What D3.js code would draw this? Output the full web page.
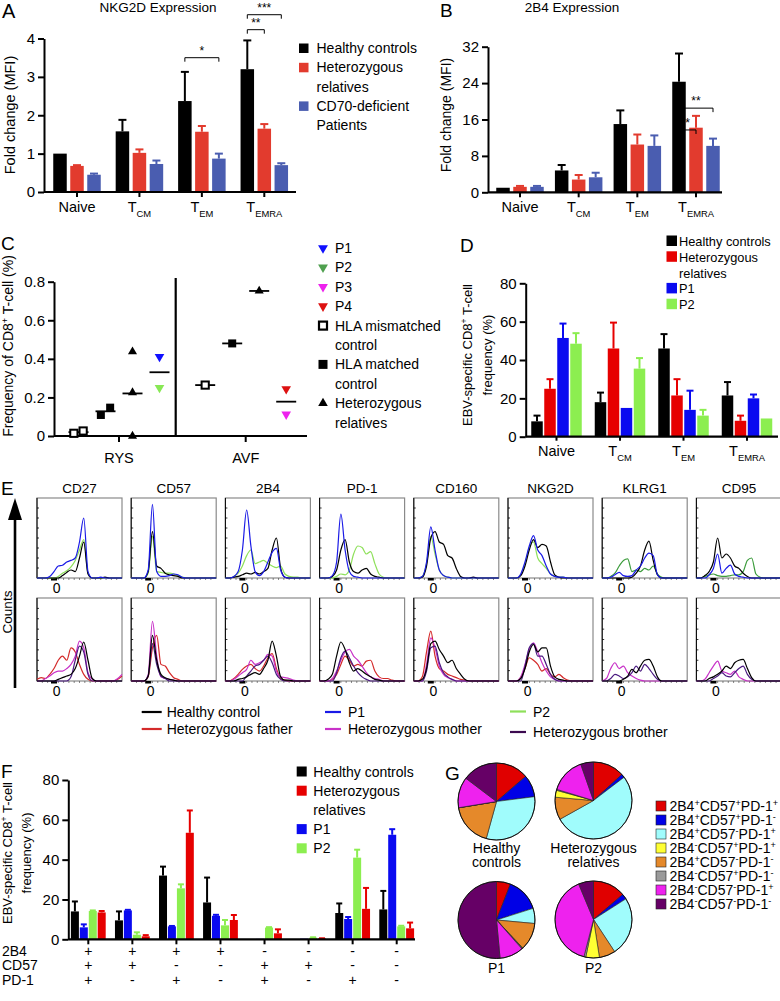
<!DOCTYPE html>
<html><head><meta charset="utf-8">
<script src="https://cdn.jsdelivr.net/npm/d3@7"></script>
<style>
body{margin:0;background:#fff}
svg{display:block}
text{font-family:"Liberation Sans",Arial,Helvetica,sans-serif;fill:#000}
</style></head><body>
<script>
// ================= DATA =================
// Panel A – NKG2D expression (fold change MFI)
const aCategories = ["Naive","T_CM","T_EM","T_EMRA"];
const aSeriesNames = ["Healthy controls","Heterozygous relatives","CD70-deficient Patients"];
const aHealthy = [1.0,1.58,2.37,3.2];
const aHealthySem = [0,0.3,0.76,0.75];
const aHet = [0.68,1.02,1.57,1.65];
const aHetSem = [0.02,0.09,0.15,0.12];
const aPat = [0.45,0.73,0.87,0.70];
const aPatSem = [0.03,0.09,0.13,0.05];
const aTicks = [0,1,2,3,4];
const aSignif = [{cat:"T_EM",a:0,b:2,label:"*",at:3.5},{cat:"T_EMRA",a:0,b:1,label:"**",at:4.23},{cat:"T_EMRA",a:0,b:2,label:"***",at:4.62}];

// Panel B – 2B4 expression
const bCategories = ["Naive","T_CM","T_EM","T_EMRA"];
const bHealthy = [1.0,4.8,15,24.3];
const bHealthySem = [0,1.2,3,6.2];
const bHet = [1.2,2.8,10.5,14.2];
const bHetSem = [0.2,1.0,2.2,2.6];
const bPat = [1.2,3.3,10.2,10.2];
const bPatSem = [0.2,1.0,2.3,1.6];
const bTicks = [0,8,16,24,32];
const bSignif = [{cat:"T_EMRA",a:0,b:1,label:"*",at:13.7},{cat:"T_EMRA",a:0,b:2,label:"**",at:18.5}];

// Panel C – tetramer frequency
const cGroups = ["RYS","AVF"];
const cSlots = ["mismatched","matched","het","patients"];
const cRysMismatched = [0.014,0.026];
const cRysMatched = [0.109,0.147];
const cRysHet = [0.437,0.225,0.0];
const cRysPatients = [["P1",0.411],["P2",0.25]];
const cAvfMismatched = [0.264];
const cAvfMatched = [0.48];
const cAvfHet = [0.752];
const cAvfPatients = [["P4",0.244],["P3",0.112]];
const cTicks = [0,0.2,0.4,0.6,0.8];
const cPatientNames = ["P1","P2","P3","P4"];

// Panel D – EBV-specific CD8 subsets
const dCategories = ["Naive","T_CM","T_EM","T_EMRA"];
const dSeriesNames = ["Healthy controls","Heterozygous relatives","P1","P2"];
const dHealthy = [8,18,46,21.5];
const dHealthySem = [3,5,7.5,7];
const dHet = [25,46,21.5,8.3];
const dHetSem = [5,13.5,8.5,2.7];
const dP1 = [51.5,15,14,20];
const dP1Sem = [7.5,0,10,2];
const dP2 = [48.5,35.5,11,9.5];
const dP2Sem = [5.5,5.5,3,0];
const dTicks = [0,20,40,60,80];

// Panel E – histograms (21 bins, % of box height)
const eMarkers = ["CD27","CD57","2B4","PD-1","CD160","NKG2D","KLRG1","CD95"];
const eR1Healthy = [
 [0,0,0,0,0,0,3,7,10,8,25,45,5,0,0,0,1,0,0,0,0],
 [0,0,0,0,8,58,15,12,6,4,3,2,0,0,0,0,0,0,0,0,0],
 [0,0,1,2,4,6,5,7,5,8,12,35,50,12,1,0,0,0,0,0,0],
 [0,0,0,2,10,35,48,20,8,6,10,12,5,2,1,0,0,0,0,0,0],
 [0,0,1,15,50,58,45,42,28,25,12,2,0,0,1,0,0,0,0,0,0],
 [0,0,0,3,15,35,48,38,42,40,20,4,1,0,0,0,0,0,0,0,0],
 [0,0,0,0,0,0,0,1,6,15,35,46,22,4,0,0,0,0,0,0,0],
 [0,0,3,8,20,50,25,30,25,15,12,6,2,0,0,0,0,0,0,0,0]];
const eR1P1 = [
 [0,0,0,2,8,15,16,20,22,25,45,75,8,0,0,1,0,0,0,0,0],
 [0,0,0,0,10,92,8,2,2,3,5,4,1,0,0,0,0,0,0,0,0],
 [0,0,2,8,35,85,40,8,3,8,20,32,37,10,1,0,0,0,0,0,0],
 [0,0,0,3,20,80,35,8,2,1,0,0,0,0,0,0,0,0,0,0,0],
 [0,0,2,20,64,35,10,3,1,0,0,0,0,0,0,0,0,0,0,0,0],
 [0,0,0,5,20,40,53,35,28,15,5,2,1,1,0,0,0,0,0,0,0],
 [0,0,1,4,7,3,2,3,10,15,25,31,28,4,0,0,0,0,0,0,0],
 [0,0,0,4,12,30,6,12,16,5,2,1,0,0,0,0,0,0,0,0,0]];
const eR1P2 = [
 [0,0,0,0,0,2,6,9,14,22,35,48,6,0,0,0,0,0,0,0,0],
 [0,0,0,0,6,52,8,7,6,6,5,3,1,0,0,0,0,0,0,0,0],
 [0,0,2,6,15,28,35,18,20,22,18,15,13,15,5,2,1,1,0,0,0],
 [0,0,0,0,2,5,4,10,30,40,38,30,33,18,5,1,0,0,0,0,0],
 [0,0,2,18,52,30,10,3,1,0,0,0,0,0,0,0,0,0,0,0,0],
 [0,0,0,4,18,38,45,25,18,12,5,2,1,1,0,0,0,0,0,0,0],
 [0,0,2,6,15,22,24,8,10,8,12,10,15,5,1,0,0,0,0,0,0],
 [0,0,2,4,5,3,2,2,3,4,4,8,22,25,5,1,0,0,0,0,0]];
const eR2Healthy = [
 [0,0,0,0,0,2,4,6,8,15,30,47,25,3,0,0,0,0,0,0,0],
 [0,0,0,0,6,55,25,8,4,2,1,0,0,0,0,0,0,0,0,0,0],
 [0,0,0,2,3,5,8,10,8,15,25,48,30,5,1,1,0,0,0,0,0],
 [0,0,2,8,30,47,38,22,12,15,12,8,5,2,1,0,0,0,0,0,0],
 [0,0,2,15,45,48,38,30,22,25,15,8,2,0,0,0,0,0,0,0,0],
 [0,0,0,3,15,35,44,35,40,40,18,5,2,1,0,0,0,0,0,0,0],
 [0,0,0,0,0,2,6,14,10,18,25,26,18,5,0,0,0,0,0,0,0],
 [0,0,0,3,5,8,12,18,15,22,25,26,15,4,0,0,0,0,0,0,0]];
const eR2Father = [
 [2,4,3,8,15,25,30,25,40,35,20,8,2,0,0,0,0,0,0,2,6],
 [0,0,0,0,5,40,55,20,18,10,4,2,0,0,0,0,0,0,0,0,0],
 [0,0,3,8,14,18,20,15,12,18,28,33,15,3,1,0,0,0,0,0,0],
 [0,0,0,2,8,20,30,25,18,20,18,24,25,12,5,3,3,1,0,0,0],
 [0,0,5,35,60,30,15,12,8,6,4,2,1,0,0,0,0,0,0,0,0],
 [0,0,0,4,15,28,25,20,12,15,8,5,8,4,1,0,0,0,0,0,0],
 [],
 []];
const eR2Mother = [
 [0,0,3,6,10,12,12,15,20,30,48,40,10,2,0,0,0,0,0,3,8],
 [0,0,0,0,8,72,30,5,3,2,1,0,0,0,0,0,0,0,0,0,0],
 [0,0,2,6,10,14,25,20,22,25,32,30,12,5,4,3,1,0,0,0,0],
 [0,0,0,3,12,25,35,38,30,25,18,10,5,3,2,0,0,0,0,0,0],
 [0,0,0,20,52,40,18,8,4,2,0,0,0,0,0,0,0,0,0,0,0],
 [0,0,0,5,20,38,46,35,22,12,5,2,0,0,0,0,0,0,0,0,0],
 [0,3,15,22,15,18,10,6,3,1,0,0,0,0,0,0,0,0,0,0,0],
 [0,0,2,10,18,24,12,10,8,12,5,2,0,0,0,0,0,0,0,0,0]];
const eR2Brother = [
 [0,0,0,0,0,0,0,0,5,25,42,35,8,0,0,0,0,0,0,0,0],
 [0,0,0,0,6,45,20,6,3,0,0,0,0,0,0,0,0,0,0,0,0],
 [0,0,0,0,0,6,12,18,20,25,30,22,8,2,0,0,0,0,0,0,0],
 [0,0,0,0,10,28,36,28,18,10,5,2,0,0,0,0,0,0,0,0,0],
 [0,0,0,12,40,42,22,10,5,2,0,0,0,0,0,0,0,0,0,0,0],
 [0,0,0,0,18,40,45,30,30,20,8,2,0,0,0,0,0,0,0,0,0],
 [0,0,3,8,6,3,5,10,18,12,20,15,8,2,0,0,0,0,0,0,0],
 [0,0,0,0,3,6,10,6,5,10,15,18,8,2,0,0,0,0,0,0,0]];
const eLegend = [["Healthy control","#000"],["Heterozygous father","#d42a2a"],["P1","#1a1ae6"],["Heterozygous mother","#c832c8"],["P2","#8ee05a"],["Heterozygous brother","#3c0a50"]];

// Panel F – phenotype subsets
const f2B4 = ["+","+","+","+","-","-","-","-"];
const fCD57 = ["+","+","-","-","+","+","-","-"];
const fPD1 = ["+","-","+","-","+","-","+","-"];
const fRowNames = ["2B4","CD57","PD-1"];
const fHealthy = [14,9.5,32,18.5,0,0,13.2,15];
const fHealthySem = [5,4.5,4.5,12.5,0,0,4.8,9.3];
const fP1 = [6,14.5,6.5,11.8,0.2,0.3,10.2,52.5];
const fP1Sem = [1.5,0.3,0.2,0.5,0,0,1,2.8];
const fP2 = [14.2,2.3,25.6,7,5.9,0.8,41,6.5];
const fP2Sem = [0.3,1.2,2,2.7,0.2,0.2,4,0.3];
const fHet = [13.5,1.5,53.5,9.7,3,0.4,15.3,5.5];
const fHetSem = [0.7,0.6,11.2,2.5,2,0.1,10.5,2.9];
const fTicks = [0,20,40,60,80];

// Panel G – pies (built from F means), legend order
const gPieNames = [["Healthy","controls"],["Heterozygous","relatives"],["P1"],["P2"]];
const gLegendOrder = [0,1,2,4,3,5,6,7];

// ================= DRAW =================
const svg = d3.select("body").append("svg").attr("width",780).attr("height",1001);

function rich(g,x,y,s,size,anchor="start",rot=0){
  const t=g.append("text").attr("x",x).attr("y",y).attr("font-size",size).attr("text-anchor",anchor);
  if(rot) t.attr("transform",`rotate(${rot},${x},${y})`);
  const parts=s.split(/(\^[^\s]|_[A-Za-z]+)/).filter(p=>p.length);
  let shift=0;
  parts.forEach(p=>{
    let mode=0,str=p;
    if(p[0]==="^"){mode=-1;str=p.slice(1);} else if(p[0]==="_"){mode=1;str=p.slice(1);}
    const target = mode===-1? -size*0.38 : mode===1? size*0.32 : 0;
    const sp=t.append("tspan").attr("dy",(target-shift).toFixed(2)).text(str);
    if(mode) sp.attr("font-size",(size*0.65).toFixed(1));
    shift=target;
  });
  return t;
}
function styleAxis(sel,fs){
  sel.attr("font-family",null).attr("font-size",null);
  sel.selectAll("path,line").attr("stroke","#000").attr("stroke-width",2);
  sel.selectAll("text").attr("font-size",fs);
}
function yAxis(g,x,y,ticks,fs,fmt){
  const ax=d3.axisLeft(y).tickValues(ticks).tickSize(6).tickSizeOuter(0).tickPadding(3)
    .tickFormat(fmt||(d=>String(d)));
  g.append("g").attr("transform",`translate(${x},0)`).call(ax).call(styleAxis,fs);
}
function drawBars(g,x,y,cats,series,offsets,bw,capW){
  series.forEach((s,si)=>{
    cats.forEach((c,ci)=>{
      const v=s.values[ci], e=s.sems[ci], cx=x(c)+offsets[si];
      if(v>0) g.append("rect").attr("x",cx-bw/2).attr("y",y(v)).attr("width",bw).attr("height",y(0)-y(v)).attr("fill",s.color);
      if(e>0){
        g.append("line").attr("x1",cx).attr("x2",cx).attr("y1",y(v)).attr("y2",y(v+e)).attr("stroke",s.color).attr("stroke-width",2);
        g.append("line").attr("x1",cx-capW/2).attr("x2",cx+capW/2).attr("y1",y(v+e)).attr("y2",y(v+e)).attr("stroke",s.color).attr("stroke-width",2);
      }
    });
  });
}
function xBase(g,x0,x1,y0,ticksX,tl){
  g.append("line").attr("x1",x0).attr("x2",x1).attr("y1",y0).attr("y2",y0).attr("stroke","#000").attr("stroke-width",2.2);
  ticksX.forEach(tx=>g.append("line").attr("x1",tx).attr("x2",tx).attr("y1",y0).attr("y2",y0+tl).attr("stroke","#000").attr("stroke-width",2));
}
function brackets(g,x,y,list,offsets){
  list.forEach(b=>{
    const xa=x(b.cat)+offsets[b.a], xb=x(b.cat)+offsets[b.b], yy=y(b.at);
    g.append("path").attr("d",`M${xa},${yy+4}V${yy}H${xb}V${yy+4}`).attr("fill","none").attr("stroke","#000").attr("stroke-width",1);
    g.append("text").attr("x",(xa+xb)/2).attr("y",yy-3).attr("text-anchor","middle").attr("font-size",12).text(b.label);
  });
}
function legendSq(g,x,y,items,sq,gap,fs,tx){
  items.forEach((it,i)=>{
    const yy=y+i*gap;
    if(it[1]) g.append("rect").attr("x",x).attr("y",yy-sq).attr("width",sq).attr("height",sq).attr("fill",it[1]);
    rich(g,tx,yy,it[0],fs);
  });
}

// ---------- Panel A ----------
{
  const g=svg.append("g");
  const y=d3.scaleLinear().domain([0,4]).range([192,38.5]);
  const x=d3.scalePoint().domain(aCategories).range([77,264.3]);
  const off=[-17,0,17];
  g.append("text").attr("x",2).attr("y",18).attr("font-size",20).text("A");
  g.append("text").attr("x",158).attr("y",12).attr("font-size",13.5).attr("text-anchor","middle").text("NKG2D Expression");
  drawBars(g,x,y,aCategories,[
    {values:aHealthy,sems:aHealthySem,color:"#000"},
    {values:aHet,sems:aHetSem,color:"#e23b2e"},
    {values:aPat,sems:aPatSem,color:"#4a5db0"}],off,13.5,8);
  yAxis(g,44,y,aTicks,15);
  xBase(g,44,296,192,aCategories.map(x),5);
  aCategories.forEach(c=>rich(g,x(c),212,c,14.5,"middle"));
  rich(g,15,115,"Fold change (MFI)",14.5,"middle",-90);
  brackets(g,x,y,aSignif,off);
  legendSq(g,299,53,[["Healthy controls","#000"],["Heterozygous","#e23b2e"],["relatives",null],["CD70-deficient","#4a5db0"],["Patients",null]],9.5,19.3,14,316.5);
}
// ---------- Panel B ----------
{
  const g=svg.append("g");
  const y=d3.scaleLinear().domain([0,32]).range([192.3,46.7]);
  const x=d3.scalePoint().domain(bCategories).range([520,696]);
  const off=[-17,0,17];
  g.append("text").attr("x",440).attr("y",17).attr("font-size",19).text("B");
  g.append("text").attr("x",572).attr("y",12).attr("font-size",13.5).attr("text-anchor","middle").text("2B4 Expression");
  drawBars(g,x,y,bCategories,[
    {values:bHealthy,sems:bHealthySem,color:"#000"},
    {values:bHet,sems:bHetSem,color:"#e23b2e"},
    {values:bPat,sems:bPatSem,color:"#4a5db0"}],off,13.5,8);
  yAxis(g,488,y,bTicks,15);
  xBase(g,488,722,192.3,bCategories.map(x),5);
  bCategories.forEach(c=>rich(g,x(c),212,c,14.5,"middle"));
  rich(g,451,115,"Fold change (MFI)",14,"middle",-90);
  brackets(g,x,y,bSignif,off);
}
// ---------- Panel C ----------
{
  const g=svg.append("g");
  const y=d3.scaleLinear().domain([0,0.8]).range([436,281.7]);
  const x=d3.scalePoint().domain(cGroups).range([119,245.7]);
  const slot=d3.scalePoint().domain(cSlots).range([-40.5,40.5]);
  g.append("text").attr("x",1).attr("y",250).attr("font-size",19).text("C");
  yAxis(g,54,y,cTicks,15,d=>d===0?"0":d3.format(".1f")(d));
  xBase(g,54,307,436,cGroups.map(x),6);
  g.append("line").attr("x1",175.7).attr("x2",175.7).attr("y1",278).attr("y2",436).attr("stroke","#000").attr("stroke-width",2.2);
  cGroups.forEach(c=>g.append("text").attr("x",x(c)).attr("y",463).attr("font-size",14.5).attr("text-anchor","middle").text(c));
  rich(g,13,346,"Frequency of CD8^+ T-cell (%)",14,"middle",-90);
  const pColor={P1:"#1010ff",P2:"#88e855",P3:"#ee22ee",P4:"#dd1111"};
  const sets=[
    ["RYS","mismatched",cRysMismatched.map(v=>["",v])],["RYS","matched",cRysMatched.map(v=>["",v])],
    ["RYS","het",cRysHet.map(v=>["",v])],["RYS","patients",cRysPatients],
    ["AVF","mismatched",cAvfMismatched.map(v=>["",v])],["AVF","matched",cAvfMatched.map(v=>["",v])],
    ["AVF","het",cAvfHet.map(v=>["",v])],["AVF","patients",cAvfPatients]];
  sets.forEach(([grp,sl,pts])=>{
    const cx=x(grp)+slot(sl);
    const mean=d3.mean(pts,p=>p[1]);
    g.append("line").attr("x1",cx-10).attr("x2",cx+10).attr("y1",y(mean)).attr("y2",y(mean)).attr("stroke","#000").attr("stroke-width",1.8);
    pts.forEach((p,i)=>{
      const jit=(sl==="mismatched"||sl==="matched")&&pts.length>1 ? (i-(pts.length-1)/2)*9.3 : 0;
      const px=cx+jit, py=y(p[1]);
      if(sl==="mismatched") g.append("rect").attr("x",px-3.6).attr("y",py-3.6).attr("width",7.2).attr("height",7.2).attr("fill","#fff").attr("stroke","#000").attr("stroke-width",2);
      else if(sl==="matched") g.append("rect").attr("x",px-4).attr("y",py-4).attr("width",8).attr("height",8).attr("fill","#000");
      else if(sl==="het") g.append("path").attr("d",d3.symbol(d3.symbolTriangle,36)()).attr("transform",`translate(${px},${py})`).attr("fill","#000");
      else g.append("path").attr("d",d3.symbol(d3.symbolTriangle,40)()).attr("transform",`translate(${px},${py}) rotate(180)`).attr("fill",pColor[p[0]]);
    });
  });
  // legend
  const lg=[["P1","tri",pColor.P1],["P2","tri","#4fa04f"],["P3","tri",pColor.P3],["P4","tri",pColor.P4],
    ["HLA mismatched","open"],["control",null],["HLA matched","fill"],["control",null],["Heterozygous","up"],["relatives",null]];
  lg.forEach((it,i)=>{
    const by=253+i*19.4, my=by-5;
    if(it[1]==="tri") g.append("path").attr("d",d3.symbol(d3.symbolTriangle,42)()).attr("transform",`translate(323,${my}) rotate(180)`).attr("fill",it[2]);
    if(it[1]==="open") g.append("rect").attr("x",319).attr("y",my-4).attr("width",8).attr("height",8).attr("fill","#fff").attr("stroke","#000").attr("stroke-width",2.2);
    if(it[1]==="fill") g.append("rect").attr("x",318.5).attr("y",my-4.5).attr("width",9).attr("height",9).attr("fill","#000");
    if(it[1]==="up") g.append("path").attr("d",d3.symbol(d3.symbolTriangle,40)()).attr("transform",`translate(323,${my})`).attr("fill","#000");
    g.append("text").attr("x",335).attr("y",by).attr("font-size",14).text(it[0]);
  });
}
// ---------- Panel D ----------
{
  const g=svg.append("g");
  const y=d3.scaleLinear().domain([0,80]).range([436.7,283.3]);
  const x=d3.scalePoint().domain(dCategories).range([556.5,747]);
  const off=[-19.5,-6.5,6.5,19.5];
  const cols=["#000","#e60000","#0a0af0","#8cee50"];
  g.append("text").attr("x",460).attr("y",252).attr("font-size",19).text("D");
  drawBars(g,x,y,dCategories,[
    {values:dHealthy,sems:dHealthySem,color:cols[0]},
    {values:dHet,sems:dHetSem,color:cols[1]},
    {values:dP1,sems:dP1Sem,color:cols[2]},
    {values:dP2,sems:dP2Sem,color:cols[3]}],off,11.5,7);
  yAxis(g,525.7,y,dTicks,15);
  xBase(g,525.7,778,436.7,dCategories.map(x),4);
  dCategories.forEach(c=>rich(g,x(c),456,c,14.5,"middle"));
  rich(g,472,355,"EBV-specific CD8^+ T-cell",13,"middle",-90);
  rich(g,492,355,"frequency (%)",13,"middle",-90);
  legendSq(g,666.5,246,[["Healthy controls",cols[0]],["Heterozygous",cols[1]],["relatives",null],["P1",cols[2]],["P2",cols[3]]],10.5,15.8,12.8,679);
}
// ---------- Panel E ----------
{
  const g=svg.append("g");
  g.append("text").attr("x",1).attr("y",495).attr("font-size",19).text("E");
  g.append("line").attr("x1",15).attr("x2",15).attr("y1",515).attr("y2",688).attr("stroke","#000").attr("stroke-width",2.6);
  g.append("path").attr("d","M15,498L8,520L22,520Z").attr("fill","#000");
  g.append("text").attr("x",12).attr("y",612).attr("font-size",13.5).attr("text-anchor","middle").attr("transform","rotate(-90,12,612)").text("Counts");
  const rows=[{top:498,bot:578,zero:593,curves:[[eR1P2,null],[eR1Healthy,"#000"],[eR1P1,"#1a1ae6"]]},
              {top:598,bot:681,zero:696,curves:[[eR2Father,"#d42a2a"],[eR2Mother,"#c832c8"],[eR2Brother,"#4a1a80"],[eR2Healthy,"#000"]]}];
  const w=85;
  eMarkers.forEach((m,i)=>{
    const left=37+i*94.2;
    g.append("text").attr("x",left+w/2).attr("y",493).attr("font-size",13.5).attr("text-anchor","middle").text(m);
    rows.forEach(r=>{
      const x=d3.scaleLinear().domain([0,20]).range([left,left+w]);
      const y=d3.scaleLinear().domain([0,100]).range([r.bot,r.top]);
      g.append("rect").attr("x",left).attr("y",r.top).attr("width",w).attr("height",r.bot-r.top).attr("fill","none").attr("stroke","#8a8a8a").attr("stroke-width",1.2);
      g.append("line").attr("x1",left).attr("x2",left).attr("y1",r.top).attr("y2",r.bot).attr("stroke","#000").attr("stroke-width",1);
      for(let k=1;k<8;k++){const ty=r.bot-(r.bot-r.top)*k/8; g.append("line").attr("x1",left).attr("x2",left+2).attr("y1",ty).attr("y2",ty).attr("stroke","#000").attr("stroke-width",0.8);}
      for(let k=1;k<16;k++){const tx=left+w*k/16; g.append("line").attr("x1",tx).attr("x2",tx).attr("y1",r.bot).attr("y2",r.bot+2).attr("stroke","#555").attr("stroke-width",0.7);}
      g.append("rect").attr("x",left+0.2*w-3).attr("y",r.bot).attr("width",6).attr("height",2.5).attr("fill","#000");
      g.append("text").attr("x",left+0.23*w).attr("y",r.zero).attr("font-size",14).attr("text-anchor","middle").text("0");
      const line=d3.line().x((d,j)=>x(j)).y(d=>y(d)).curve(d3.curveMonotoneX);
      r.curves.forEach(([arr,col])=>{
        const vals=arr[i]; if(!vals||!vals.length) return;
        const c=col||(i>=6?"#3c9c3c":"#8ee05a");
        g.append("path").attr("d",line(vals)).attr("fill","none").attr("stroke",c).attr("stroke-width",1.2);
      });
    });
  });
  // legend
  const pos=[[141.7,712],[141.7,729],[325,712],[325,729],[510,711.5],[510,732]];
  eLegend.forEach((it,i)=>{
    const [lx,ly]=pos[i];
    g.append("line").attr("x1",lx).attr("x2",lx+(i<2?20:16)).attr("y1",ly).attr("y2",ly).attr("stroke",it[1]).attr("stroke-width",2.2);
    g.append("text").attr("x",lx+(i<2?25:23)).attr("y",ly+5).attr("font-size",14).text(it[0]);
  });
}
// ---------- Panel F ----------
const fCats = f2B4.map((d,i)=>"g"+i);
{
  const g=svg.append("g");
  const y=d3.scaleLinear().domain([0,80]).range([939.3,780]);
  const x=d3.scalePoint().domain(fCats).range([88.3,396.7]);
  const off=[-13.4,-4.5,4.5,13.4];
  g.append("text").attr("x",1).attr("y",778).attr("font-size",19).text("F");
  drawBars(g,x,y,fCats,[
    {values:fHealthy,sems:fHealthySem,color:"#000"},
    {values:fP1,sems:fP1Sem,color:"#0a0af0"},
    {values:fP2,sems:fP2Sem,color:"#8cee50"},
    {values:fHet,sems:fHetSem,color:"#e60000"}],off,8,6);
  yAxis(g,68.3,y,fTicks,15);
  xBase(g,68.3,415,939.3,fCats.map(x),5);
  rich(g,12,853,"EBV-specific CD8^+ T-cell",13,"middle",-90);
  rich(g,31,853,"frequency (%)",13,"middle",-90);
  [f2B4,fCD57,fPD1].forEach((arr,ri)=>{
    const by=955.5+ri*14.8;
    g.append("text").attr("x",2).attr("y",by).attr("font-size",14).text(fRowNames[ri]);
    arr.forEach((s,ci)=>g.append("text").attr("x",x(fCats[ci])).attr("y",by).attr("font-size",14).attr("text-anchor","middle").text(s));
  });
  legendSq(g,296.7,776.5,[["Healthy controls","#000"],["Heterozygous","#e60000"],["relatives",null],["P1","#0a0af0"],["P2","#8cee50"]],10,19.2,14,313.3);
}
// ---------- Panel G ----------
{
  const g=svg.append("g");
  const colors=["#e00000","#0000e6","#a0fcfc","#e5892a","#ffff33","#9a9a9a","#ee22ee","#660066"];
  g.append("text").attr("x",445).attr("y",780).attr("font-size",19).text("G");
  const pies=[[fHealthy,496.5,801.5],[fHet,593.5,800.5],[fP1,496.5,920],[fP2,593.5,919.5]];
  const arc=d3.arc().innerRadius(0).outerRadius(38.5);
  const pie=d3.pie().sort(null).value(d=>d);
  pies.forEach(([vals,cx,cy],pi)=>{
    const pg=g.append("g").attr("transform",`translate(${cx},${cy})`);
    pg.selectAll("path").data(pie(vals)).join("path").attr("d",arc).attr("fill",(d,i)=>colors[i]).attr("stroke","#222").attr("stroke-width",0.6);
    pg.append("circle").attr("r",38.5).attr("fill","none").attr("stroke","#111").attr("stroke-width",1);
    gPieNames[pi].forEach((t,li)=>g.append("text").attr("x",cx).attr("y",(pi<2?852.7:972.7)+li*14).attr("font-size",14).attr("text-anchor","middle").text(t));
  });
  gLegendOrder.forEach((k,i)=>{
    const yy=806+i*14;
    g.append("rect").attr("x",656).attr("y",yy-5).attr("width",10).attr("height",10).attr("fill",colors[k]).attr("stroke","#222").attr("stroke-width",0.6);
    rich(g,669.5,yy+5,`2B4^${f2B4[k]}CD57^${fCD57[k]}PD-1^${fPD1[k]}`,14);
  });
}
</script></body></html>
